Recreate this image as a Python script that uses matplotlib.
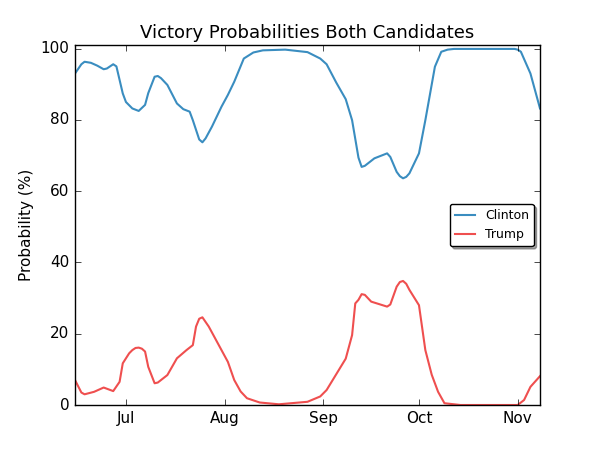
import matplotlib
matplotlib.use("Agg")
import matplotlib.pyplot as plt
import matplotlib.dates as mdates
import pandas as pd

plt.style.use("classic")

clinton_dates = ["2016-06-15", "2016-06-16", "2016-06-17", "2016-06-18", "2016-06-20",
                 "2016-06-22", "2016-06-24", "2016-06-25", "2016-06-27", "2016-06-28",
                 "2016-06-30", "2016-07-01", "2016-07-03", "2016-07-05", "2016-07-07",
                 "2016-07-08", "2016-07-10", "2016-07-11", "2016-07-12", "2016-07-14",
                 "2016-07-17", "2016-07-19", "2016-07-21", "2016-07-22", "2016-07-24",
                 "2016-07-25", "2016-07-26", "2016-07-28", "2016-07-31", "2016-08-02",
                 "2016-08-04", "2016-08-07", "2016-08-10", "2016-08-13", "2016-08-20",
                 "2016-08-27", "2016-08-31", "2016-09-02", "2016-09-05", "2016-09-08",
                 "2016-09-10", "2016-09-12", "2016-09-13", "2016-09-14", "2016-09-17",
                 "2016-09-21", "2016-09-22", "2016-09-24", "2016-09-25", "2016-09-26",
                 "2016-09-27", "2016-09-28", "2016-10-01", "2016-10-03", "2016-10-06",
                 "2016-10-08", "2016-10-10", "2016-10-12", "2016-10-31", "2016-11-01",
                 "2016-11-02", "2016-11-05", "2016-11-08"]
clinton_values = [93.0, 94.3, 95.6, 96.3, 96.0,
                  95.2, 94.2, 94.4, 95.6, 95.0,
                  87.4, 85.0, 83.2, 82.5, 84.2,
                  87.5, 92.1, 92.3, 91.7, 89.8,
                  84.6, 83.0, 82.3, 79.9, 74.5,
                  73.7, 74.8, 78.1, 83.7, 87.0,
                  90.7, 97.2, 98.9, 99.5, 99.7,
                  99.0, 97.2, 95.6, 90.5, 85.8,
                  79.9, 69.4, 66.8, 67.1, 69.2,
                  70.6, 69.6, 65.4, 64.2, 63.6,
                  64.0, 65.0, 70.6, 79.9, 94.9,
                  99.1, 99.7, 99.9, 99.9, 99.7,
                  99.1, 93.0, 83.2]

trump_dates = ["2016-06-15", "2016-06-17", "2016-06-18", "2016-06-21", "2016-06-24",
               "2016-06-27", "2016-06-29", "2016-06-30", "2016-07-02", "2016-07-03",
               "2016-07-04", "2016-07-05", "2016-07-06", "2016-07-07", "2016-07-08",
               "2016-07-10", "2016-07-11", "2016-07-14", "2016-07-17", "2016-07-20",
               "2016-07-22", "2016-07-23", "2016-07-24", "2016-07-25", "2016-07-27",
               "2016-07-31", "2016-08-02", "2016-08-04", "2016-08-06", "2016-08-08",
               "2016-08-12", "2016-08-18", "2016-08-27", "2016-08-31", "2016-09-02",
               "2016-09-05", "2016-09-08", "2016-09-10", "2016-09-11", "2016-09-12",
               "2016-09-13", "2016-09-14", "2016-09-16", "2016-09-21", "2016-09-22",
               "2016-09-24", "2016-09-25", "2016-09-26", "2016-09-27", "2016-09-28",
               "2016-10-01", "2016-10-03", "2016-10-05", "2016-10-07", "2016-10-09",
               "2016-10-14", "2016-11-01", "2016-11-03", "2016-11-05", "2016-11-08"]
trump_values = [7.0, 3.5, 3.0, 3.7, 4.9,
                3.9, 6.5, 11.7, 14.5, 15.4,
                16.0, 16.1, 15.8, 15.0, 10.7,
                6.1, 6.3, 8.4, 13.1, 15.4,
                16.8, 22.0, 24.2, 24.6, 22.0,
                15.4, 12.1, 7.0, 3.8, 1.9,
                0.7, 0.2, 0.9, 2.4, 4.2,
                8.6, 13.0, 19.6, 28.5, 29.5,
                31.1, 30.9, 29.0, 27.6, 28.2,
                33.2, 34.5, 34.8, 34.0, 32.3,
                28.0, 15.4, 8.5, 3.7, 0.5,
                0.0, 0.0, 1.4, 5.1, 8.1]

series_names = ["Clinton", "Trump"]
series_colors = ["#3a8dc0", "#ef4f4f"]

cd = pd.to_datetime(clinton_dates)
td = pd.to_datetime(trump_dates)

fig = plt.figure(figsize=(6, 4.5), dpi=100, facecolor="white")
ax = fig.add_axes([0.125, 0.1, 0.775, 0.8])
ax.plot(cd, clinton_values, color=series_colors[0], lw=1.5, label=series_names[0])
ax.plot(td, trump_values, color=series_colors[1], lw=1.5, label=series_names[1])

ax.set_xlim(cd[0], cd[-1])
ax.set_ylim(0, 101)
ax.set_yticks([0, 20, 40, 60, 80, 100])
ax.xaxis.set_major_locator(mdates.MonthLocator())
ax.xaxis.set_major_formatter(mdates.DateFormatter("%b"))
ax.tick_params(labelsize=11)
ax.set_title("Victory Probabilities Both Candidates", fontsize=13)
ax.set_ylabel("Probability (%)", fontsize=11)
ax.legend(loc="center right", fontsize=9, fancybox=True, shadow=True, numpoints=1,
          handlelength=1.6)

fig.savefig("out.png", dpi=100, facecolor="white")
